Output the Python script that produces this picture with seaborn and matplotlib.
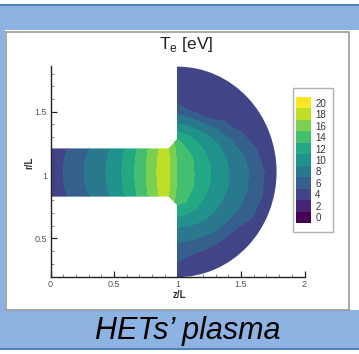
import numpy as np
import matplotlib
matplotlib.use("Agg")
import matplotlib.pyplot as plt
from matplotlib.patches import Rectangle, Ellipse, Polygon
from matplotlib.ticker import MultipleLocator, FuncFormatter
import seaborn as sns

# electron temperature in the channel (eV), rows follow channel_r
channel_z = [0.0, 0.1, 0.2, 0.3, 0.4, 0.5, 0.6, 0.7, 0.8, 0.9, 1.0]
channel_r = [0.76, 0.83, 0.93, 1.02, 1.11, 1.21, 1.29]
te_channel = [
    [3.2, 4.6, 5.9, 7.0, 8.1, 9.5, 11.3, 13.4, 15.7, 18.1, 13.9],
    [3.2, 4.6, 5.9, 7.0, 8.1, 9.5, 11.3, 13.4, 15.7, 18.1, 14.3],
    [3.4, 4.9, 6.2, 7.3, 8.4, 9.8, 11.6, 13.7, 16.0, 18.4, 14.7],
    [3.5, 5.0, 6.3, 7.4, 8.5, 9.9, 11.7, 13.8, 16.1, 18.5, 14.8],
    [3.4, 4.9, 6.2, 7.3, 8.4, 9.8, 11.6, 13.7, 16.0, 18.4, 14.7],
    [3.2, 4.6, 5.9, 7.0, 8.1, 9.5, 11.3, 13.4, 15.7, 18.1, 14.3],
    [3.2, 4.6, 5.9, 7.0, 8.1, 9.5, 11.3, 13.4, 15.7, 18.1, 13.9],
]

# electron temperature in the plume (eV), rows follow plume_theta
plume_theta = [-90, -75, -60, -45, -30, -15, 0, 15, 30, 45, 60, 75, 90]  # deg from z axis
plume_rho = [0.0, 0.1, 0.2, 0.3, 0.4, 0.5, 0.6, 0.7, 0.8, 0.9, 1.0, 1.1]  # of plume radius
te_plume = [
    [14.8, 14.4, 13.8, 13.2, 11.5, 9.4, 7.9, 6.6, 5.4, 4.6, 4.2, 4.0],
    [14.8, 14.3, 13.7, 13.1, 11.2, 9.4, 7.9, 6.5, 4.9, 4.5, 4.1, 4.0],
    [14.8, 14.2, 13.5, 12.4, 10.9, 9.4, 8.1, 6.6, 4.8, 4.4, 4.1, 4.0],
    [14.8, 14.1, 13.2, 11.9, 10.6, 9.4, 8.1, 6.8, 4.9, 4.5, 4.1, 4.0],
    [14.8, 13.9, 12.9, 11.6, 10.4, 9.3, 8.2, 7.1, 5.7, 4.7, 4.2, 4.0],
    [14.8, 13.8, 12.7, 11.5, 10.4, 9.3, 8.3, 7.3, 6.0, 4.8, 4.2, 4.0],
    [14.8, 13.8, 12.6, 11.4, 10.3, 9.2, 8.2, 7.3, 5.9, 4.7, 4.2, 4.0],
    [14.8, 13.8, 12.6, 11.4, 10.2, 9.1, 7.9, 6.7, 5.2, 4.5, 4.1, 3.9],
    [14.8, 13.9, 12.9, 11.4, 10.1, 8.9, 7.3, 5.4, 4.6, 4.3, 4.0, 3.9],
    [14.8, 14.1, 13.1, 11.6, 10.1, 8.4, 6.3, 4.6, 4.3, 4.1, 4.0, 3.9],
    [14.8, 14.2, 13.3, 11.9, 10.0, 7.9, 4.9, 4.4, 4.2, 4.0, 3.9, 3.8],
    [14.8, 14.3, 13.6, 12.5, 10.1, 7.8, 4.8, 4.3, 4.2, 4.0, 3.9, 3.8],
    [14.8, 14.4, 13.8, 13.2, 10.5, 8.0, 5.5, 4.3, 4.2, 4.0, 3.9, 3.8],
]

te_levels = [0, 2, 4, 6, 8, 10, 12, 14, 16, 18, 20]

# geometry (in units of L)
R_IN, R_OUT = 0.83, 1.21
FLARE_Z, FLARE_IN, FLARE_OUT = 0.93, 0.76, 1.29
EXIT_Z, PLUME_RC = 1.0, 1.025
PLUME_AZ, PLUME_AR = 0.78, 0.83

W, H = 359, 354
LIGHT, DARK = "#8db3e2", "#4f81bd"

sns.set_theme(style="white")
plt.rcParams["font.family"] = ["Liberation Sans", "DejaVu Sans"]

fig = plt.figure(figsize=(W / 100, H / 100), dpi=100)
fig.patch.set_facecolor("white")


def fx(x):
    return x / W


def fy(y):
    return 1 - y / H


def box(x0, y0, x1, y1, **kw):
    fig.add_artist(Rectangle((fx(x0), fy(y1)), fx(x1) - fx(x0), fy(y0) - fy(y1),
                             transform=fig.transFigure, zorder=-2, **kw))


# slide decoration around the figure
box(0, 3.5, W, 6, color=DARK, lw=0)
box(0, 6, W, 30, color=LIGHT, lw=0)
box(0, 6, 5, 348, color=LIGHT, lw=0)
box(0, 310, W, 348, color=LIGHT, lw=0)
box(0, 348, W, 350, color=DARK, lw=0)
box(5.5, 31.5, 348.5, 309.5, facecolor="white", edgecolor="#9a9a9a", lw=1.2)

bounds = np.arange(-1, 22, 2)
cmap = matplotlib.colors.ListedColormap(
    sns.color_palette("viridis", as_cmap=True)(np.linspace(0, 1, len(te_levels))))

ax = fig.add_axes([fx(50.5), fy(276.5), (304.5 - 50.5) / W, (276.5 - 66) / H])
ax.patch.set_visible(False)
ax.set_xlim(0, 2)
ax.set_ylim(0.2, 1.86)

# channel + flare
Zc, Rc = np.meshgrid(channel_z, channel_r)
cs1 = ax.contourf(Zc, Rc, np.array(te_channel), levels=bounds, cmap=cmap)
chan = Polygon([(0, R_IN), (FLARE_Z, R_IN), (EXIT_Z, FLARE_IN), (EXIT_Z, FLARE_OUT),
                (FLARE_Z, R_OUT), (0, R_OUT)], closed=True, transform=ax.transData)
cs1.set_clip_path(chan)

# plume
th = np.radians(plume_theta)
RHO, TH = np.meshgrid(plume_rho, th)
Zp = EXIT_Z + PLUME_AZ * RHO * np.cos(TH)
Rp = PLUME_RC + PLUME_AR * RHO * np.sin(TH)
cs2 = ax.contourf(Zp, Rp, np.array(te_plume), levels=bounds, cmap=cmap)
plume = Ellipse((EXIT_Z, PLUME_RC), 2 * PLUME_AZ, 2 * PLUME_AR, transform=ax.transData)
cs2.set_clip_path(plume)

for s in ["top", "right"]:
    ax.spines[s].set_visible(False)
for s in ["left", "bottom"]:
    ax.spines[s].set_color("#222222")
    ax.spines[s].set_linewidth(1.0)
ax.xaxis.set_major_locator(MultipleLocator(0.5))
ax.yaxis.set_major_locator(MultipleLocator(0.5))
ax.xaxis.set_minor_locator(MultipleLocator(0.1))
ax.yaxis.set_minor_locator(MultipleLocator(0.1))
fmt = FuncFormatter(lambda v, p: "%g" % v)
ax.xaxis.set_major_formatter(fmt)
ax.yaxis.set_major_formatter(fmt)
ax.tick_params(which="both", direction="in", bottom=True, left=True, top=False, right=False,
               colors="#222222", labelcolor="#555555", labelsize=6.5, pad=2.5)
ax.tick_params(which="major", length=4.5, width=0.9)
ax.tick_params(which="minor", length=2.5, width=0.6, colors="#777777")

fig.text(fx(179), fy(295.5), "z/L", fontsize=7, fontweight="bold", color="#333333",
         ha="center", va="center")
fig.text(fx(29), fy(163), "r/L", fontsize=7, fontweight="bold", color="#333333",
         ha="center", va="center", rotation=90)
fig.text(fx(186), fy(44), r"T$_{\mathregular{e}}$ [eV]", fontsize=12.5, color="#222222",
         ha="center", va="center")

# legend box + colour bar
box(293, 88, 333, 232, facecolor="white", edgecolor="#b0b0b0", lw=1.0)
cax = fig.add_axes([fx(296), fy(223), 15 / W, 126 / H])
cb = fig.colorbar(cs2, cax=cax, ticks=te_levels)
cb.outline.set_visible(False)
cax.tick_params(length=0, labelsize=7, labelcolor="#333333", pad=3, right=True)

fig.text(fx(188), fy(331), "HETs\u2019 plasma", fontsize=22, style="italic", color="black",
         ha="center", va="center")

fig.savefig("out.png", dpi=100)
